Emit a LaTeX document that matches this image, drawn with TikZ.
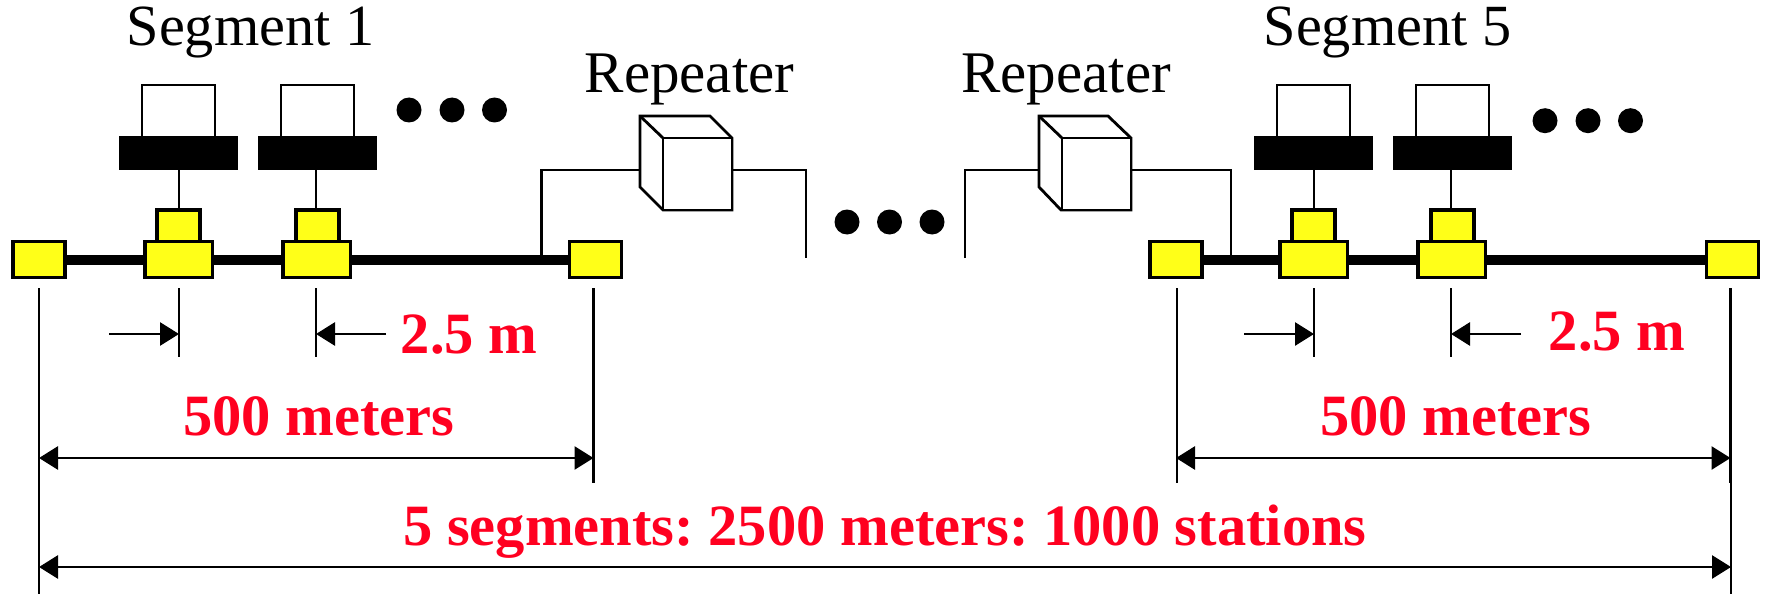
\documentclass[tikz,border=0pt]{standalone}
\usepackage{fontspec}
\setmainfont{Liberation Serif}
\usetikzlibrary{arrows.meta}
\definecolor{tapred}{RGB}{255,0,32}
\definecolor{tapyellow}{RGB}{255,255,24}
\tikzset{
  x=1pt,y=-1pt,
  every node/.style={inner sep=0pt,outer sep=0pt},
  yel/.style={draw=black,line width=3.2pt,fill=tapyellow,rectangle,anchor=north west},
  endbox/.style={yel,minimum width=52pt,minimum height=36pt},
  tapbig/.style={yel,minimum width=67.5pt,minimum height=36pt},
  tapsmall/.style={yel,minimum width=43pt,minimum height=32pt},
  nic/.style={fill=black,rectangle,anchor=north west,minimum width=119pt,minimum height=33pt},
  screen/.style={draw=black,line width=2.8pt,fill=white,rectangle,anchor=north west,minimum width=73pt,minimum height=52pt},
  dotb/.style={fill=black,circle,minimum size=25pt,anchor=center},
  thin/.style={line width=2.8pt,black},
  cable/.style={line width=10.5pt,black},
  dim/.style={line width=2.8pt,black,-{Triangle[length=19pt,width=23pt]}},
  ddim/.style={line width=2.8pt,black,{Triangle[length=19pt,width=23pt]}-{Triangle[length=19pt,width=23pt]}},
  lab/.style={font=\fontsize{58.3}{60}\selectfont,anchor=base,black},
  replab/.style={font=\fontsize{59}{60}\selectfont,anchor=base,black},
  rlab/.style={font=\fontsize{58.5}{60}\selectfont\bfseries,anchor=base,text=tapred},
  cube/.style={draw=black,line width=2.8pt,fill=white,line join=miter},
  front/.style={cube,rectangle,anchor=north west,minimum width=69pt,minimum height=72pt},
}
\begin{document}
\frenchspacing
\begin{tikzpicture}
\useasboundingbox (0,0) rectangle (1767,599);
% Segments: \o ends, \p stations, \q dots, \y dots height
\foreach \o/\p/\q/\y/\s/\n in {0/0/0/110/a/1,1137/1135/1136/120.7/b/5}{
\begin{scope}[xshift=\o pt]
  \coordinate (L\s) at (39,260);
  \coordinate (R\s) at (595,260);
  \draw[cable] (L\s) -- (R\s);
  \node[endbox] (e1\s) at (13,241.6) {};
  \node[endbox] (e2\s) at (569.5,241.6) {};
  \node[lab] (seg\s) at (250.5,46) {Segment \n};
  \coordinate (tc\s) at (593.5,288);
  \coordinate (td\s) at (593.5,483);
  \draw[thin] (tc\s) -- (td\s);
  \coordinate (ae\s) at (39,458);
  \coordinate (af\s) at (593.5,458);
  \draw[ddim] (ae\s) -- (af\s);
  \node[rlab] (five\s) at (319,435) {500 meters};
\end{scope}
\begin{scope}[xshift=\p pt]
  % spacing ticks
  \coordinate (te\s) at (179,288);
  \coordinate (tf\s) at (179,357);
  \coordinate (tg\s) at (316,288);
  \coordinate (th\s) at (316,357);
  \draw[thin] (te\s) -- (tf\s);
  \draw[thin] (tg\s) -- (th\s);
  % station 1
  \node[screen] (m1\s) at (142,85) {};
  \node[nic] (n1\s) at (119,136.5) {};
  \node[tapsmall] (t1\s) at (157,210) {};
  \node[tapbig] (b1\s) at (145,241.6) {};
  \draw[thin] (n1\s.south -| te\s) -- (t1\s.north -| te\s);
  % station 2
  \node[screen] (m2\s) at (281,85) {};
  \node[nic] (n2\s) at (257.5,136.5) {};
  \node[tapsmall] (t2\s) at (296,210) {};
  \node[tapbig] (b2\s) at (283,241.6) {};
  \draw[thin] (n2\s.south -| tg\s) -- (t2\s.north -| tg\s);
  \coordinate (aa\s) at (109,334);
  \coordinate (ab\s) at (179,334);
  \coordinate (ac\s) at (386,334);
  \coordinate (ad\s) at (316,334);
  \draw[dim] (aa\s) -- (ab\s);
  \draw[dim] (ac\s) -- (ad\s);
\end{scope}
\begin{scope}[xshift=\q pt]
  \node[dotb] (d1\s) at (409,\y) {};
  \node[dotb] (d2\s) at (452,\y) {};
  \node[dotb] (d3\s) at (494.5,\y) {};
\end{scope}
}
% Long ticks
\coordinate (ltop) at (39,288);
\coordinate (lbot) at (39,594);
\coordinate (rtop) at (1731,288);
\coordinate (rbot) at (1731,594);
\draw[thin] (ltop) -- (lbot);
\draw[thin] (rtop) -- (rbot);
\coordinate (midtop) at (1177,288);
\coordinate (midbot) at (1177,483);
\draw[thin] (midtop) -- (midbot);
\node[rlab] (lena) at (469,353) {2.5 m};
\node[rlab] (lenb) at (1617,350) {2.5 m};
% Repeater 1
\coordinate (w1a) at (541.5,256);
\coordinate (w1b) at (541.5,170);
\coordinate (c1l) at (640,170);
\coordinate (c1r) at (732,170);
\coordinate (w1c) at (806,170);
\coordinate (w1d) at (806,258);
\draw[thin,line join=miter] (w1a) -- (w1b) -- (c1l);
\draw[thin,line join=miter] (c1r) -- (w1c) -- (w1d);
\draw[cube] (640,116) -- (710,116) -- (732,138) -- (732,210) -- (663,210) -- (640,187) -- cycle;
\node[front] (rep1) at (663,138) {};
\draw[cube] (640,116) -- (663,138);
\node[replab] (rl1) at (689.5,93) {Repeater};
% Repeater 2
\coordinate (w2a) at (965,258);
\coordinate (w2b) at (965,170);
\coordinate (c2l) at (1039,170);
\coordinate (c2r) at (1131,170);
\coordinate (w2c) at (1231,170);
\coordinate (w2d) at (1231,256);
\draw[thin,line join=miter] (w2a) -- (w2b) -- (c2l);
\draw[thin,line join=miter] (c2r) -- (w2c) -- (w2d);
\draw[cube] (1039,116) -- (1108,116) -- (1131,138) -- (1131,210) -- (1061,210) -- (1039,187) -- cycle;
\node[front] (rep2) at (1062,138) {};
\draw[cube] (1039,116) -- (1062,138);
\node[replab] (rl2) at (1066,93) {Repeater};
% middle dots
\node[dotb] (md1) at (847,222) {};
\node[dotb] (md2) at (889.5,222) {};
\node[dotb] (md3) at (932,222) {};
% Overall dimension
\coordinate (tl) at (39,567);
\coordinate (tr) at (1731,567);
\draw[ddim] (tl) -- (tr);
\node[rlab] (total) at (885,545) {5 segments: 2500 meters: 1000 stations};
\end{tikzpicture}
\end{document}
